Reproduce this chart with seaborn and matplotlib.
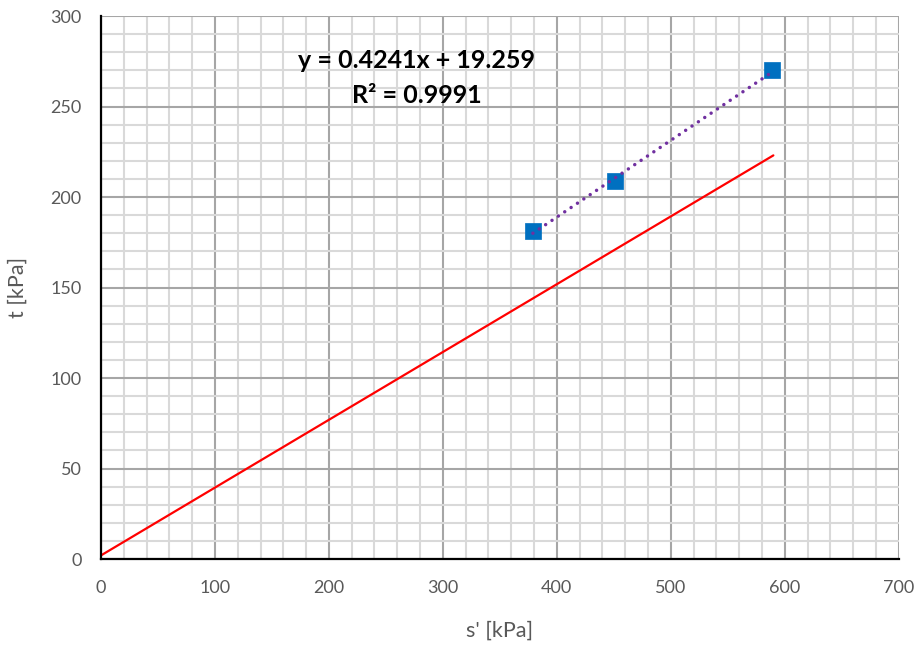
import matplotlib
matplotlib.use("Agg")
import matplotlib.pyplot as plt
from matplotlib.ticker import MultipleLocator
import numpy as np
import pandas as pd
import seaborn as sns

# Measured stress path points
s_eff = [379, 451, 589]
t_val = [181, 209, 270]

# Failure envelope line (end points)
env_s = [0, 590]
env_t = [2, 223]

# Linear trend reported on the chart
slope = 0.4241
intercept = 19.259
r_squared = 0.9991

sns.set_theme(style="white")
plt.rcParams["font.family"] = ["Lato", "DejaVu Sans"]

fig = plt.figure(figsize=(9.18, 6.48), dpi=100)
ax = fig.add_axes([0.110, 0.1373, 0.869, 0.838])

pts = pd.DataFrame({"s": s_eff, "t": t_val})
env = pd.DataFrame({"s": env_s, "t": env_t})
trend_x = np.array([min(s_eff), max(s_eff)])
trend = pd.DataFrame({"s": trend_x, "t": slope * trend_x + intercept})

sns.lineplot(data=env, x="s", y="t", ax=ax, color="#FF0000", linewidth=1.6, zorder=3)
sns.scatterplot(data=pts, x="s", y="t", ax=ax, marker="s", s=120, color="#0070C0",
                edgecolor="#0070C0", linewidth=0.5, zorder=4)
sns.lineplot(data=trend, x="s", y="t", ax=ax, color="#7030A0", linewidth=2.5,
             linestyle=(0, (0.01, 2.2)), dash_capstyle="round", zorder=5)

ax.set_xlim(0, 700)
ax.set_ylim(0, 300)
ax.xaxis.set_major_locator(MultipleLocator(100))
ax.xaxis.set_minor_locator(MultipleLocator(20))
ax.yaxis.set_major_locator(MultipleLocator(50))
ax.yaxis.set_minor_locator(MultipleLocator(10))

ax.grid(which="minor", color="#D9D9D9", linewidth=1.5, zorder=0)
ax.grid(which="major", color="#A6A6A6", linewidth=1.5, zorder=1)
ax.set_axisbelow(True)

for side in ["top", "right"]:
    ax.spines[side].set_visible(False)
for side in ["left", "bottom"]:
    ax.spines[side].set_color("black")
    ax.spines[side].set_linewidth(1.6)
    ax.spines[side].set_zorder(6)

ax.tick_params(which="major", direction="in", length=7, width=1.6, color="black",
               labelsize=13, labelcolor="#595959")
ax.tick_params(which="minor", length=0)
ax.tick_params(axis="y", pad=14)
ax.tick_params(axis="x", pad=15)

ax.set_xlabel("s' [kPa]", fontsize=15.5, color="#595959", labelpad=18)
ax.set_ylabel("t [kPa]", fontsize=15.5, color="#595959", labelpad=16)

ax.text(277, 275.5, f"y = {slope}x + {intercept}", ha="center", va="center",
        fontsize=18, fontweight="bold", color="black", zorder=7)
ax.text(277, 256, f"R² = {r_squared}", ha="center", va="center",
        fontsize=18, fontweight="bold", color="black", zorder=7)

fig.savefig("out.png", dpi=100)
